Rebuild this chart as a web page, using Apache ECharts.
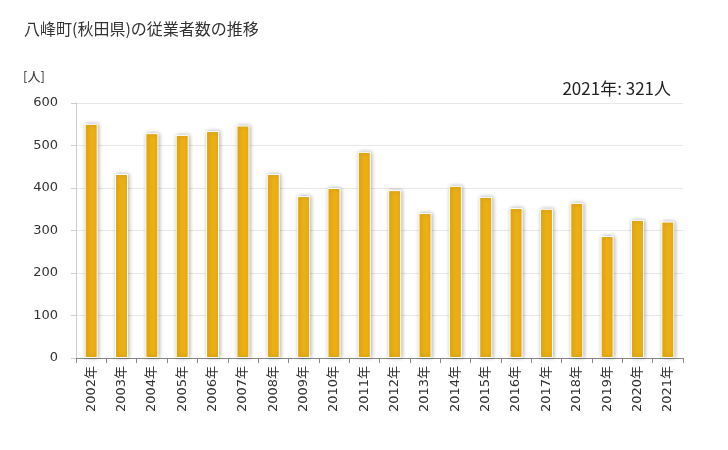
<!DOCTYPE html>
<html><head><meta charset="utf-8">
<script src="https://cdn.jsdelivr.net/npm/echarts@6/dist/echarts.min.js"></script>
<style>html,body{margin:0;padding:0;background:#fff}#c{width:728px;height:450px}</style>
</head><body><div id="c"></div>
<script>
const categories = ['2002年','2003年','2004年','2005年','2006年','2007年','2008年','2009年','2010年','2011年','2012年','2013年','2014年','2015年','2016年','2017年','2018年','2019年','2020年','2021年'];
const values = [551,433,529,525,534,547,433,381,400,485,395,341,405,379,353,351,365,287,325,321];
const yTicks = [0,100,200,300,400,500,600];
const titleText = '八峰町(秋田県)の従業者数の推移';
const unitText = '[人]';
const noteText = '2021年: 321人';
const font = '"DejaVu Sans", "Noto Sans CJK JP", sans-serif';
const cjk = '"Noto Sans CJK JP", sans-serif';
const chart = echarts.init(document.getElementById('c'));
chart.setOption({
  animation:false,
  title:[
    {text:titleText,left:19,top:16,textStyle:{fontSize:16,fontWeight:'normal',color:'#333',fontFamily:cjk}},
    {text:unitText,left:18,top:65,textStyle:{fontSize:13,fontWeight:'normal',color:'#333',fontFamily:cjk}},
    {text:noteText,right:52,top:75,textStyle:{fontSize:17,fontWeight:'normal',color:'#222',fontFamily:cjk}}
  ],
  grid:{left:76,right:45,top:103,bottom:92},
  xAxis:{type:'category',data:categories,
    axisLine:{lineStyle:{color:'#888'}},
    axisTick:{show:true,lineStyle:{color:'#888'}},
    axisLabel:{rotate:90,fontSize:13,color:'#333',fontFamily:font,margin:8}},
  yAxis:{type:'value',min:yTicks[0],max:yTicks[yTicks.length-1],interval:100,
    axisLine:{show:true,lineStyle:{color:'#ccc'}},
    axisTick:{show:true,lineStyle:{color:'#ccc'}},
    splitLine:{lineStyle:{color:'#e8e8e8'}},
    axisLabel:{fontSize:13,color:'#333',fontFamily:font,margin:18}},
  series:[{type:'bar',data:values,barWidth:13,
    itemStyle:{color:'#EDB014',borderColor:'#fff',borderWidth:1,shadowColor:'rgba(0,0,0,0.3)',shadowBlur:4,shadowOffsetX:1}}]
});
</script></body></html>
